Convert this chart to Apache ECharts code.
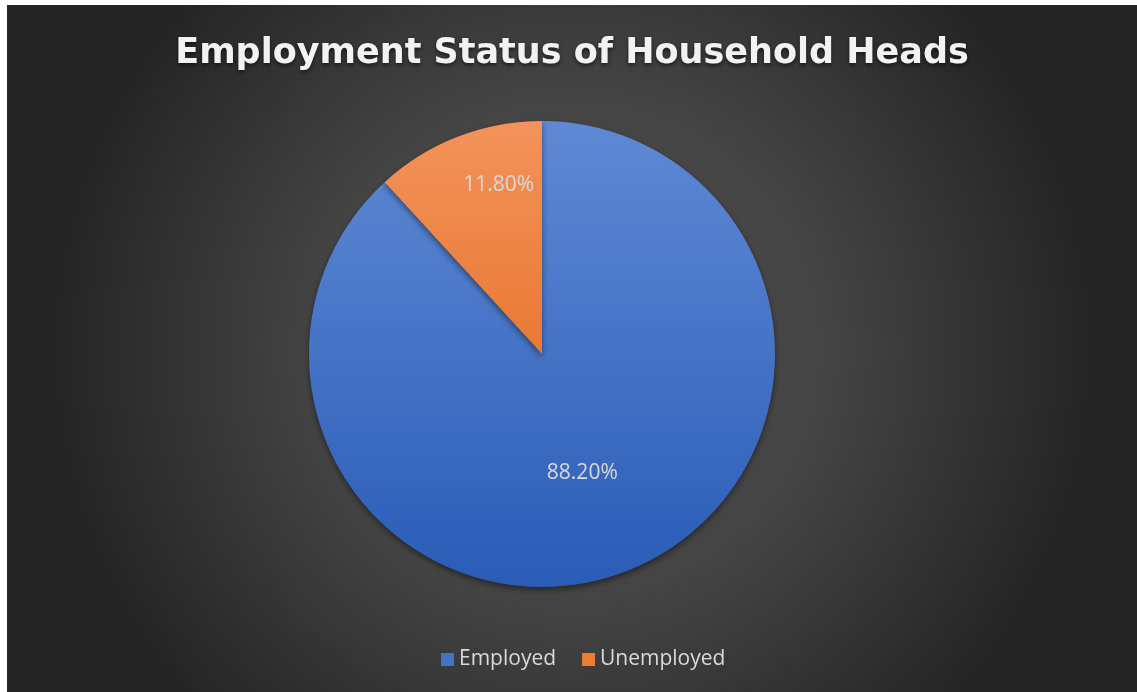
<!DOCTYPE html>
<html>
<head>
  <meta charset="utf-8">
  <script src="https://cdn.jsdelivr.net/npm/echarts@6/dist/echarts.min.js"></script>
  <style>
    html, body { margin: 0; padding: 0; background: #fff; }
    #chart {
      position: absolute;
      left: 7px;
      top: 5px;
      width: 1130px;
      height: 687px;
    }
  </style>
</head>
<body>
  <div id="chart"></div>
  <script>
    // data
    const categories = ['Employed', 'Unemployed'];
    const shares = [88.2, 11.8];

    // pie geometry (chart px)
    const cx = 535;
    const cy = 349;
    const R = 233;

    // Excel-like vertical gradients, spanning the whole pie
    function pieGradient(top, bottom) {
      return new echarts.graphic.LinearGradient(0, cy - R, 0, cy + R, [
        {offset: 0, color: top},
        {offset: 1, color: bottom},
      ], true);
    }
    const fills = [
      pieGradient('#5f89d4', '#2a5cb7'),
      pieGradient('#f3935b', '#de5e0e'),
    ];
    const legendColors = ['#4472c4', '#ed7d31'];

    const chart = echarts.init(document.getElementById('chart'));
    chart.setOption({
      backgroundColor: new echarts.graphic.RadialGradient(0.5, 0.5, 0.75, [
        {offset: 0, color: '#4d4d4d'},
        {offset: 0.5, color: '#444444'},
        {offset: 1, color: '#252525'},
      ]),
      title: {
        text: 'Employment Status of Household Heads',
        left: 'center',
        top: 26,
        textStyle: {
          fontFamily: 'DejaVu Sans',
          fontWeight: 'bold',
          fontSize: 35,
          color: '#f2f2f2',
          textShadowColor: 'rgba(0,0,0,0.6)',
          textShadowBlur: 4,
          textShadowOffsetY: 2,
        },
      },
      legend: {
        left: 434,
        top: 644,
        padding: 0,
        itemWidth: 13,
        itemHeight: 13,
        itemGap: 26,
        icon: 'rect',
        data: categories.map((name, i) => ({name: name, itemStyle: {color: legendColors[i]}})),
        textStyle: {
          fontFamily: 'Open Sans',
          fontSize: 21,
          color: '#d9d9d9',
        },
      },
      series: [
        {
          type: 'pie',
          center: [cx, cy],
          radius: R,
          startAngle: 90,
          clockwise: true,
          animation: false,
          label: {
            position: 'inside',
            formatter: (p) => p.value.toFixed(2) + '%',
            fontFamily: 'Open Sans',
            fontSize: 21,
            color: '#d9d9d9',
          },
          labelLayout: (p) => (p.dataIndex === 0 ? {dx: -3, dy: 8} : {dx: 0, dy: -58}),
          labelLine: {show: false},
          emphasis: {disabled: true},
          itemStyle: {
            borderWidth: 0,
            shadowColor: 'rgba(0,0,0,0.45)',
            shadowBlur: 6,
            shadowOffsetY: 3,
          },
          data: categories.map((name, i) => ({
            name: name,
            value: shares[i],
            itemStyle: {color: fills[i]},
          })),
        },
      ],
    });
  </script>
</body>
</html>
